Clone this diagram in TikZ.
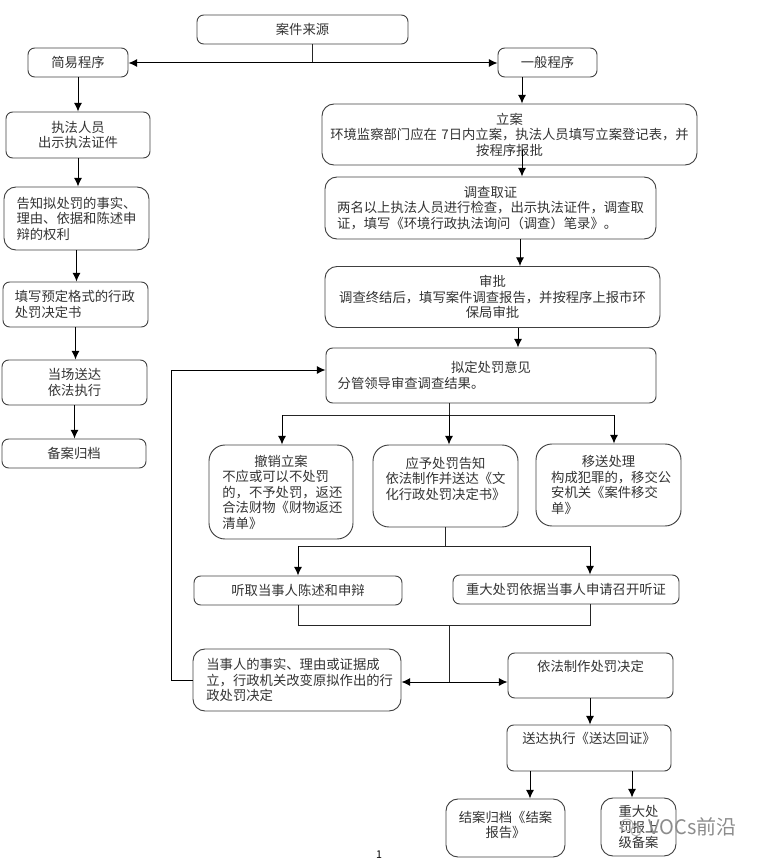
\documentclass[tikz,border=0pt]{standalone}
\usepackage{fontspec}
\setmainfont{Noto Sans CJK SC}
\usepackage{tikz}
\usetikzlibrary{arrows.meta}
\tikzset{
  stepbox/.style={draw=black!75,line width=0.7pt,rounded corners=5pt,inner sep=0,align=center,
    font=\fontsize{10}{11.6}\selectfont,text=black!80},
  bigbox/.style={stepbox,rounded corners=9pt},
  flow/.style={draw=black,line width=0.75pt,-{Latex[length=6.5pt,width=6pt]}},
  flowline/.style={draw=black!85,line width=0.75pt},
}
\newcommand{\steptitle}[1]{\makebox[\linewidth]{#1}\\}
\begin{document}
\begin{tikzpicture}[x=0.75pt,y=-0.75pt]
  \useasboundingbox (0,0) rectangle (760,859);
  % top
  \node[stepbox,minimum width=158.25pt,minimum height=21.75pt] (source) at (302.5,29.5) {案件来源};
  \node[stepbox,minimum width=75pt,minimum height=21.75pt] (simple) at (78,62.5) {简易程序};
  \node[stepbox,minimum width=74.25pt,minimum height=21.75pt] (general) at (547.5,62.5) {一般程序};
  % left column
  \node[stepbox,minimum width=108pt,minimum height=34.5pt] (officer) at (78,135) {执法人员\\出示执法证件};
  \node[bigbox,minimum width=108.75pt,minimum height=47.25pt,text width=90pt,align=left] (inform) at (76.5,218.5) {告知拟处罚的事实、\\理由、依据和陈述申\\辩的权利};
  \node[stepbox,minimum width=108.75pt,minimum height=33.75pt,text width=91pt,align=left] (fill) at (75.5,304.5) {填写预定格式的行政\\处罚决定书};
  \node[stepbox,minimum width=108.75pt,minimum height=33.75pt] (deliver) at (74.5,382.5) {当场送达\\依法执行};
  \node[stepbox,minimum width=108pt,minimum height=21.75pt] (archive) at (74,453.5) {备案归档};
  % right column
  \node[bigbox,minimum width=281.25pt,minimum height=45.75pt,text width=275pt] (register) at (509.5,134.5) {立案\\环境监察部门应在 7日内立案，执法人员填写立案登记表，并\\按程序报批};
  \node[bigbox,minimum width=248.25pt,minimum height=46.5pt,text width=230pt,align=left] (survey) at (490.5,208) {\steptitle{调查取证}两名以上执法人员进行检查，出示执法证件，调查取\\证，填写《环境行政执法询问（调查）笔录》。};
  \node[bigbox,minimum width=251.25pt,minimum height=45.75pt,text width=240pt] (approve) at (492.5,297) {审批\\调查终结后，填写案件调查报告，并按程序上报市环\\保局审批};
  \node[stepbox,minimum width=247.5pt,minimum height=41.25pt,text width=230pt,align=left] (draft) at (491,375.5) {\steptitle{拟定处罚意见}分管领导审查调查结果。};
  % three outcomes
  \node[bigbox,rounded corners=12pt,minimum width=108pt,minimum height=70.5pt,text width=88pt,align=left] (cancel) at (281,492) {\steptitle{撤销立案}不应或可以不处罚\\的，不予处罚，返还\\合法财物《财物返还\\清单》};
  \node[bigbox,rounded corners=12pt,minimum width=108.75pt,minimum height=61.5pt,text width=90pt] (notice) at (445.5,486) {应予处罚告知\\依法制作并送达《文\\化行政处罚决定书》\\~};
  \node[bigbox,rounded corners=12pt,minimum width=108.75pt,minimum height=61.5pt,text width=86pt,align=left] (transfer) at (608.5,485) {\steptitle{移送处理}构成犯罪的，移交公\\安机关《案件移交\\单》};
  \node[stepbox,minimum width=156pt,minimum height=21.75pt] (hear) at (298,590.5) {听取当事人陈述和申辩};
  \node[stepbox,minimum width=169.5pt,minimum height=21.75pt] (hearing) at (566,589.5) {重大处罚依据当事人申请召开听证};
  \node[bigbox,minimum width=156pt,minimum height=46.5pt,text width=136pt,align=left] (change) at (297,680) {当事人的事实、理由或证据成\\立，行政机关改变原拟作出的行\\政处罚决定};
  \node[stepbox,minimum width=123.75pt,minimum height=33.75pt] (decide) at (590.5,675.5) {依法制作处罚决定\\[2.5pt]~};
  \node[stepbox,minimum width=123pt,minimum height=34.5pt] (execute) at (589,748) {送达执行《送达回证》\\[3.5pt]~};
  \node[bigbox,minimum width=89.25pt,minimum height=43.5pt] (close) at (505.5,828) {结案归档《结案\\报告》\\[-6.4pt]~};
  \node[bigbox,minimum width=56.25pt,minimum height=43.5pt] (major) at (638.5,827) {重大处\\罚报上\\级备案};
  % page number and mark
  \node[inner sep=0,font=\fontsize{8}{9}\selectfont] (page) at (379,855) {1};
  \draw[black!30,line width=0.7pt] (627,825) circle (6) (636,831) circle (5);
  \node[inner sep=0,anchor=west,text=black!45,font=\fontsize{15}{17}\selectfont] (mark) at (648,827) {VOCs前沿};
  % guide columns for the arrows
  \coordinate (c1) at (522,0);
  \coordinate (c2) at (520,0);
  \coordinate (c2b) at (518,0);
  \coordinate (c3) at (449,0);
  \coordinate (c4) at (282,0);
  \coordinate (c5) at (614,0);
  \coordinate (c6) at (298,0);
  \coordinate (c7) at (590,0);
  \coordinate (c8) at (530,0);
  \coordinate (c9) at (632,0);
  \coordinate (c10) at (171,0);
  \coordinate (c11) at (312,0);
  \coordinate (r1) at (0,63);
  \coordinate (r2) at (0,415);
  \coordinate (r3) at (0,546);
  \coordinate (r4) at (0,625);
  \coordinate (r5) at (0,682);
  \coordinate (r6) at (0,370);
  \coordinate (r7) at (0,150);
  % source splits
  \draw[flowline] (c11 |- source.south) -- (c11 |- r1);
  \draw[flow] (c11 |- r1) -- (simple.east |- r1);
  \draw[flow] (c11 |- r1) -- (general.west |- r1);
  % left column arrows
  \draw[flow] (simple.south) -- (simple.south |- officer.north);
  \draw[flow] (officer.south) -- (officer.south |- inform.north);
  \draw[flow] (inform.south) -- (inform.south |- fill.north);
  \draw[flow] (fill.south) -- (fill.south |- deliver.north);
  \draw[flow] (deliver.south) -- (deliver.south |- archive.north);
  % right column arrows
  \draw[flow] (c1 |- general.south) -- (c1 |- register.north);
  \draw[flow] (c1 |- r7) -- (c1 |- survey.north);
  \draw[flow] (c2 |- survey.south) -- (c2 |- approve.north);
  \draw[flow] (c2b |- approve.south) -- (c2b |- draft.north);
  % outcomes
  \draw[flowline] (c3 |- draft.south) -- (c3 |- r2);
  \draw[flowline] (c4 |- r2) -- (c5 |- r2);
  \draw[flow] (c4 |- r2) -- (c4 |- cancel.north);
  \draw[flow] (c3 |- r2) -- (c3 |- notice.north);
  \draw[flow] (c5 |- r2) -- (c5 |- transfer.north);
  \draw[flowline] (notice.south) -- (notice.south |- r3);
  \draw[flowline] (c6 |- r3) -- (c7 |- r3);
  \draw[flow] (c6 |- r3) -- (c6 |- hear.north);
  \draw[flow] (c7 |- r3) -- (c7 |- hearing.north);
  \draw[flowline] (c6 |- hear.south) -- (c6 |- r4) -- (c7 |- r4) -- (c7 |- hearing.south);
  \draw[flowline] (c3 |- r4) -- (c3 |- r5);
  \draw[flow] (c3 |- r5) -- (change.east |- r5);
  \draw[flow] (c3 |- r5) -- (decide.west |- r5);
  % back to draft
  \draw[flow] (change.west) -- (c10 |- change.west) -- (c10 |- r6) -- (draft.west |- r6);
  % ending
  \draw[flow] (c7 |- decide.south) -- (c7 |- execute.north);
  \draw[flow] (c8 |- execute.south) -- (c8 |- close.north);
  \draw[flow] (c9 |- execute.south) -- (c9 |- major.north);
\end{tikzpicture}
\end{document}
